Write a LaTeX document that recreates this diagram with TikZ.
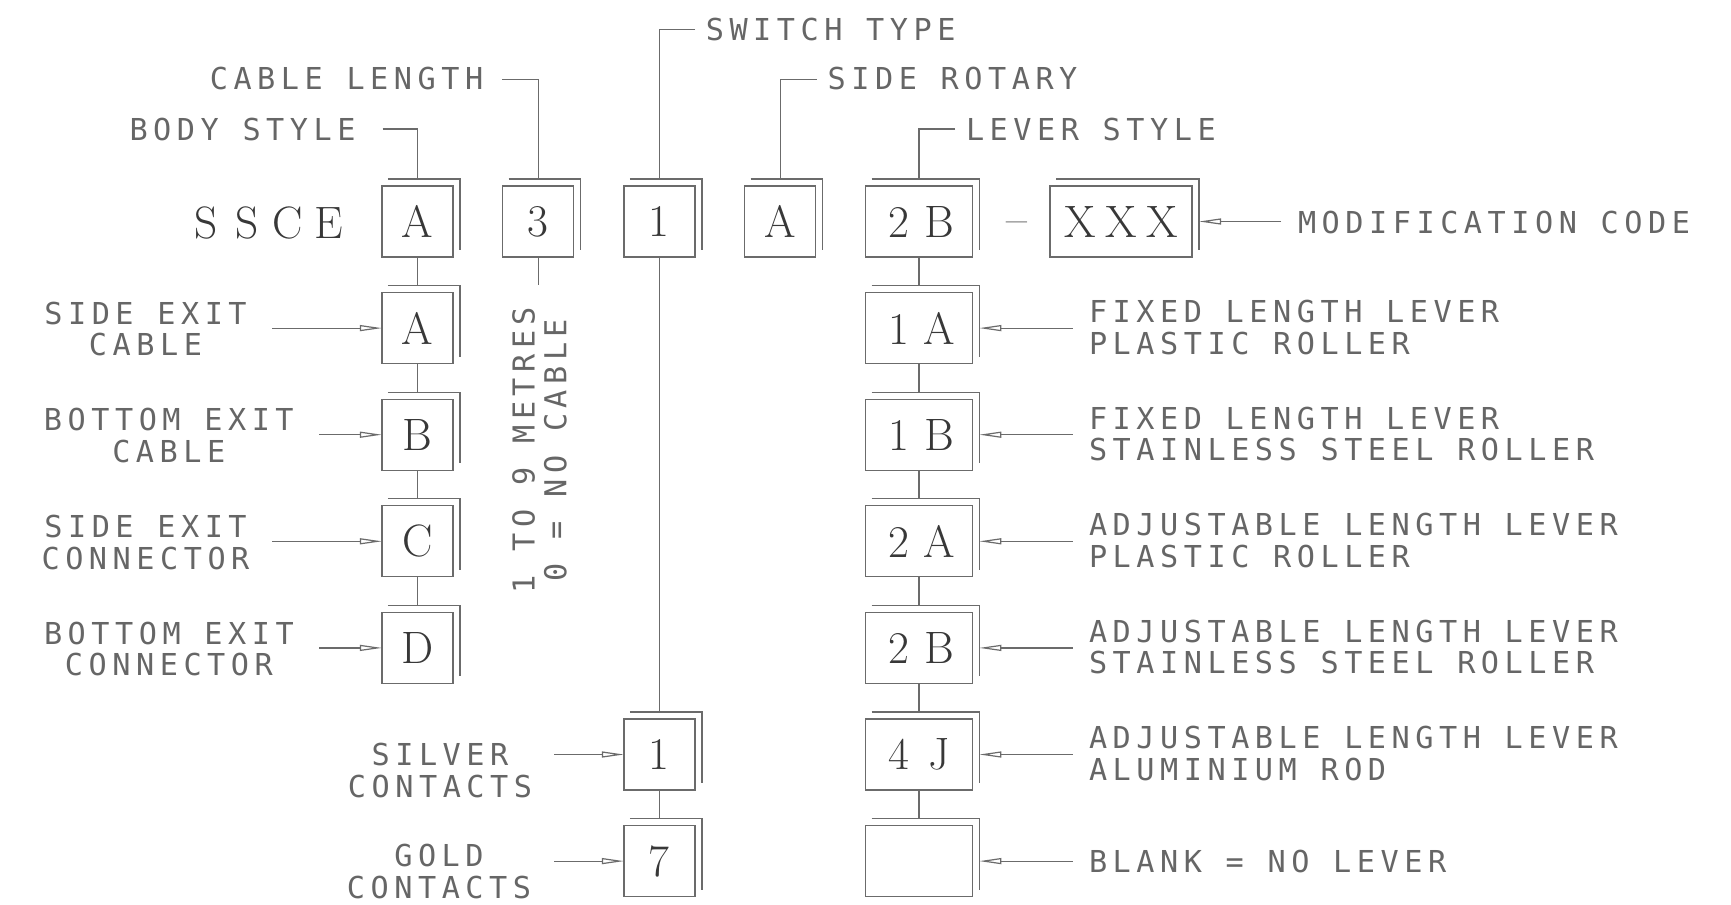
\documentclass[tikz,border=0pt]{standalone}
\usepackage{fontspec}
\usetikzlibrary{arrows.meta}
\newfontfamily\labfont{DejaVu Sans Mono}[LetterSpace=18.3]
\newfontfamily\romfont{Latin Modern Roman}
\newcommand\bc[1]{\makebox[20.5pt]{#1}}
\newcommand\boxshadow[1]{\draw[ln] ([shift={(6,-7)}]#1.north west) -- ([shift={(7,-7)}]#1.north east) -- ([shift={(7,-7)}]#1.south east);}
\definecolor{lc}{gray}{0.42}
\definecolor{tc}{gray}{0.4}
\begin{document}
\begin{tikzpicture}[x=0.5pt,y=-0.5pt,
  lab/.style={font=\labfont\fontsize{15.1pt}{15.85pt}\selectfont, text=tc, inner sep=0pt, outer sep=0pt},
  rom/.style={font=\romfont\fontsize{22.7pt}{24pt}\selectfont, text=black!78},
  bx/.style={rom, draw=lc, line width=0.6pt, minimum width=35.5pt, minimum height=35.5pt, inner sep=0pt, outer sep=0pt},
  wbx/.style={bx, minimum width=53.3pt},
  xbx/.style={bx, minimum width=71pt},
  ln/.style={draw=lc, line width=0.6pt},
  arr/.style={ln, -{Triangle[open, length=11pt, width=3pt]}},
]
\fill[white] (0,0) rectangle (1731,905);
\useasboundingbox (0,0) rectangle (1731,905);

% ---- boxes ----
\node[bx] (A0) at (417.4,221.5) {\bc{A}};
\node[bx] (A1) at (417.4,328.1) {\bc{A}};
\node[bx] (A2) at (417.4,434.7) {\bc{B}};
\node[bx] (A3) at (417.4,541.3) {\bc{C}};
\node[bx] (A4) at (417.4,647.9) {\bc{D}};
\node[bx] (N3) at (538.2,221.5) {\bc{3}};
\node[bx] (S0) at (659.4,221.5) {\bc{1}};
\node[bx] (S5) at (659.4,754.5) {\bc{1}};
\node[bx] (S6) at (659.4,861.1) {\bc{7}};
\node[bx] (R0) at (780.1,221.5) {\bc{A}};
\node[wbx] (L0) at (919,221.5) {\bc{2}\bc{B}};
\node[wbx] (L1) at (919,328.1) {\bc{1}\bc{A}};
\node[wbx] (L2) at (919,434.7) {\bc{1}\bc{B}};
\node[wbx] (L3) at (919,541.3) {\bc{2}\bc{A}};
\node[wbx] (L4) at (919,647.9) {\bc{2}\bc{B}};
\node[wbx] (L5) at (919,754.5) {\bc{4}\bc{J}};
\node[wbx] (L6) at (919,861.1) {};
\node[xbx] (X) at (1121,221.5) {\bc{X}\bc{X}\bc{X}};
\foreach \b in {A0,A1,A2,A3,A4,N3,S0,S5,S6,R0,L0,L1,L2,L3,L4,L5,L6,X} {\boxshadow{\b}}

\node[rom, anchor=base, inner sep=0pt] (ssce) at (267.5,238.3) {\bc{S}\bc{S}\bc{C}\bc{E}};
\node[rom, anchor=base, inner sep=0pt] (dash) at (1017,234.3) {–};

% ---- vertical chains ----
\draw[ln] (A0.south) -- ([shift={(0,-7)}]A1.north);
\draw[ln] (A1.south) -- ([shift={(0,-7)}]A2.north);
\draw[ln] (A2.south) -- ([shift={(0,-7)}]A3.north);
\draw[ln] (A3.south) -- ([shift={(0,-7)}]A4.north);
\draw[ln] (S0.south) -- ([shift={(0,-7)}]S5.north);
\draw[ln] (S5.south) -- ([shift={(0,-7)}]S6.north);
\draw[ln] (L0.south) -- ([shift={(0,-7)}]L1.north);
\draw[ln] (L1.south) -- ([shift={(0,-7)}]L2.north);
\draw[ln] (L2.south) -- ([shift={(0,-7)}]L3.north);
\draw[ln] (L3.south) -- ([shift={(0,-7)}]L4.north);
\draw[ln] (L4.south) -- ([shift={(0,-7)}]L5.north);
\draw[ln] (L5.south) -- ([shift={(0,-7)}]L6.north);
\coordinate (c3s) at (538.2,285);
\draw[ln] (N3.south) -- (c3s);

% ---- top labels and leaders ----
\node[lab, anchor=north west] (tst) at (705.8,18.3) {SWITCH TYPE};
\node[lab, anchor=north west] (tcl) at (209.8,66.7) {CABLE LENGTH};
\node[lab, anchor=north west] (tsr) at (827.7,66.7) {SIDE ROTARY};
\node[lab, anchor=north west] (tbs) at (129.5,118) {BODY STYLE};
\node[lab, anchor=north west] (tls) at (966,118) {LEVER STYLE};
\coordinate (lst) at (695,29.3);
\coordinate (lcl) at (502,79.3);
\coordinate (lsr) at (816.5,79.3);
\coordinate (lbs) at (382.6,129);
\coordinate (lls) at (955,129);
\draw[ln] (lst) -| ([shift={(0,-7)}]S0.north);
\draw[ln] (lcl) -| ([shift={(0,-7)}]N3.north);
\draw[ln] (lsr) -| ([shift={(0,-7)}]R0.north);
\draw[ln] (lbs) -| ([shift={(0,-7)}]A0.north);
\draw[ln] (lls) -| ([shift={(0,-7)}]L0.north);

\node[lab, anchor=north west] (tmc) at (1298,211) {MODIFICATION CODE};
\coordinate (cmc) at (1281,221.5);
\draw[arr] (cmc) -- ([shift={(7,0)}]X.east);

% ---- left labels ----
\node[lab, align=center, anchor=north] (ta1) at (145.5,301.7) {SIDE EXIT\\CABLE};
\node[lab, align=center, anchor=north] (ta2) at (168.8,408.3) {BOTTOM EXIT\\CABLE};
\node[lab, align=center, anchor=north] (ta3) at (145.5,515) {SIDE EXIT\\CONNECTOR};
\node[lab, align=center, anchor=north] (ta4) at (168.9,621.6) {BOTTOM EXIT\\CONNECTOR};
\node[lab, align=center, anchor=north] (ts5) at (440,743.3) {SILVER\\CONTACTS};
\node[lab, align=center, anchor=north] (ts6) at (439,844) {GOLD\\CONTACTS};
\coordinate (ca1) at (272.3,328.1);
\coordinate (ca2) at (319.3,434.7);
\coordinate (ca3) at (272.3,541.3);
\coordinate (ca4) at (319.3,647.9);
\coordinate (cs5) at (554.3,754.5);
\coordinate (cs6) at (554.3,861.1);
\draw[arr] (ca1) -- (A1.west);
\draw[arr] (ca2) -- (A2.west);
\draw[arr] (ca3) -- (A3.west);
\draw[arr] (ca4) -- (A4.west);
\draw[arr] (cs5) -- (S5.west);
\draw[arr] (cs6) -- (S6.west);

% ---- vertical cable text ----
\node[lab, align=center, rotate=90, anchor=north] (tlen) at (512.3,450) {1 TO 9 METRES\\0 = NO CABLE};

% ---- right labels ----
\node[lab, align=left, anchor=north west] (tl1) at (1089,300) {FIXED LENGTH LEVER\\PLASTIC ROLLER};
\node[lab, align=left, anchor=north west] (tl2) at (1089,406.6) {FIXED LENGTH LEVER\\STAINLESS STEEL ROLLER};
\node[lab, align=left, anchor=north west] (tl3) at (1089,513.2) {ADJUSTABLE LENGTH LEVER\\PLASTIC ROLLER};
\node[lab, align=left, anchor=north west] (tl4) at (1089,619.8) {ADJUSTABLE LENGTH LEVER\\STAINLESS STEEL ROLLER};
\node[lab, align=left, anchor=north west] (tl5) at (1089,726.4) {ADJUSTABLE LENGTH LEVER\\ALUMINIUM ROD};
\node[lab, anchor=north west] (tl6) at (1089,850) {BLANK = NO LEVER};
\foreach \i/\y in {1/328.1,2/434.7,3/541.3,4/647.9,5/754.5,6/861.1} {
  \coordinate (cr\i) at (1072.7,\y);
  \draw[arr] (cr\i) -- ([shift={(7,0)}]L\i.east);
}
\end{tikzpicture}
\end{document}
